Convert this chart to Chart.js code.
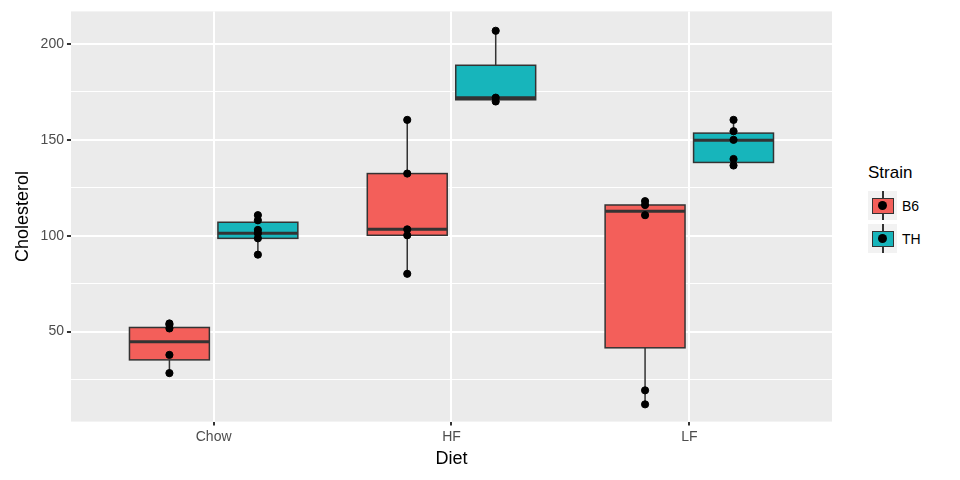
<!DOCTYPE html>
<html><head>
<script src="https://cdn.jsdelivr.net/npm/chart.js@4"></script>
<style>
body{margin:0;background:#fff;font-family:"Liberation Sans",Arial,sans-serif;}
#wrap{position:relative;width:960px;height:480px;}
#c{position:absolute;left:0;top:0;}
#legend{position:absolute;left:868px;top:163px;font-size:17px;color:#000;}
.item{display:flex;align-items:center;height:33px;font-size:14px;}
.key{width:29px;height:29px;background:#f2f2f2;position:relative;margin-right:5px;}
.key .b{position:absolute;left:4px;top:7px;width:20px;height:14px;border:1px solid #333;}
.key .v{position:absolute;left:14px;top:0;width:1.5px;height:29px;background:#333;}
.key .d{position:absolute;left:10px;top:10px;width:9px;height:9px;border-radius:50%;background:#000;}
</style></head>
<body><div id="wrap"><canvas id="c" width="850" height="480"></canvas>
<div id="legend"><div style="margin-bottom:6px">Strain</div>
<div class="item"><div class="key"><div class="v"></div><div class="b" style="background:#F35F5A"></div><div class="d"></div></div>B6</div>
<div class="item"><div class="key"><div class="v"></div><div class="b" style="background:#17B5BB"></div><div class="d"></div></div>TH</div>
</div></div>
<script>
const diets = ["Chow", "HF", "LF"];
const strains = ["B6", "TH"];
const colors = ["#F35F5A", "#17B5BB"];
// box stats per strain: [lowWhisker, q1, median, q3, highWhisker] per diet
const boxB6 = [[28.3, 35.2, 44.7, 52.1, 54.2], [80.1, 100.2, 103.3, 132.4, 160.4], [12.0, 41.5, 112.8, 116.0, 118.0]];
const boxTH = [[90.1, 98.6, 101.2, 107.0, 110.7], [170.0, 170.9, 172.0, 188.9, 206.9], [136.1, 138.2, 149.8, 153.5, 160.4]];
const ptsB6 = [[28.3, 37.8, 51.6, 53.5, 54.2], [80.1, 100.2, 103.3, 132.4, 160.4], [12.0, 19.3, 110.7, 116.0, 118.0]];
const ptsTH = [[90.1, 98.6, 101.2, 103.0, 108.0, 110.7], [170.0, 172.0, 206.9], [136.6, 140.0, 150.0, 154.5, 160.4]];
const yTicks = [50, 100, 150, 200];

const dodge = 0.186, halfW = 0.168;
const boxes = [boxB6, boxTH];
const pts = [ptsB6, ptsTH];

function scatterData(s) {
  const out = [];
  pts[s].forEach((vals, i) => vals.forEach(v => out.push({x: i + 1 + (s ? dodge : -dodge), y: v})));
  return out;
}

const boxPlugin = {
  id: 'boxes',
  beforeDatasetsDraw(chart) {
    const ctx = chart.ctx, xs = chart.scales.x, ys = chart.scales.y;
    ctx.save();
    ctx.strokeStyle = '#333';
    boxes.forEach((set, s) => set.forEach((b, i) => {
      const cx = i + 1 + (s ? dodge : -dodge);
      const xc = xs.getPixelForValue(cx), x0 = xs.getPixelForValue(cx - halfW), x1 = xs.getPixelForValue(cx + halfW);
      const p = b.map(v => ys.getPixelForValue(v));
      ctx.lineWidth = 1.5;
      ctx.beginPath(); ctx.moveTo(xc, p[0]); ctx.lineTo(xc, p[1]); ctx.moveTo(xc, p[3]); ctx.lineTo(xc, p[4]); ctx.stroke();
      ctx.fillStyle = colors[s];
      ctx.fillRect(x0, p[3], x1 - x0, p[1] - p[3]);
      ctx.strokeRect(x0, p[3], x1 - x0, p[1] - p[3]);
      ctx.lineWidth = 3;
      ctx.beginPath(); ctx.moveTo(x0, p[2]); ctx.lineTo(x1, p[2]); ctx.stroke();
    }));
    ctx.restore();
  }
};
const bgPlugin = {
  id: 'bg',
  beforeDraw(chart) {
    const a = chart.chartArea, ctx = chart.ctx;
    ctx.save(); ctx.fillStyle = '#EBEBEB'; ctx.fillRect(a.left, a.top, a.right - a.left, a.bottom - a.top); ctx.restore();
  }
};

new Chart(document.getElementById('c'), {
  type: 'scatter',
  data: { datasets: strains.map((s, k) => ({
    label: s, data: scatterData(k), backgroundColor: '#000', borderColor: '#000', pointRadius: 3.6, pointHoverRadius: 3.6
  })) },
  options: {
    responsive: false, animation: false,
    layout: { padding: { top: 10, right: 18, left: 8, bottom: 6 } },
    plugins: { legend: { display: false }, tooltip: { enabled: false } },
    scales: {
      x: {
        type: 'linear', min: 0.4, max: 3.6,
        afterBuildTicks: ax => { ax.ticks = [1, 2, 3].map(v => ({value: v})); },
        ticks: { callback: v => diets[v - 1], color: '#4d4d4d', font: { size: 14 } },
        grid: { color: '#fff', lineWidth: 2, drawTicks: true, tickColor: '#333', tickLength: 4 },
        border: { display: false },
        title: { display: true, text: 'Diet', color: '#000', font: { size: 18 }, padding: { top: 0 } }
      },
      y: {
        min: 3, max: 217,
        afterBuildTicks: ax => { const t = []; for (let v = 25; v <= 200; v += 25) t.push({value: v}); ax.ticks = t; },
        ticks: { callback: v => yTicks.includes(v) ? v : '', color: '#4d4d4d', font: { size: 14 } },
        grid: { color: '#fff', lineWidth: c => yTicks.includes(c.tick.value) ? 2 : 1,
                tickColor: c => yTicks.includes(c.tick.value) ? '#333' : 'rgba(0,0,0,0)', tickLength: 4 },
        border: { display: false },
        title: { display: true, text: 'Cholesterol', color: '#000', font: { size: 18 } }
      }
    }
  },
  plugins: [bgPlugin, boxPlugin]
});
</script></body></html>
